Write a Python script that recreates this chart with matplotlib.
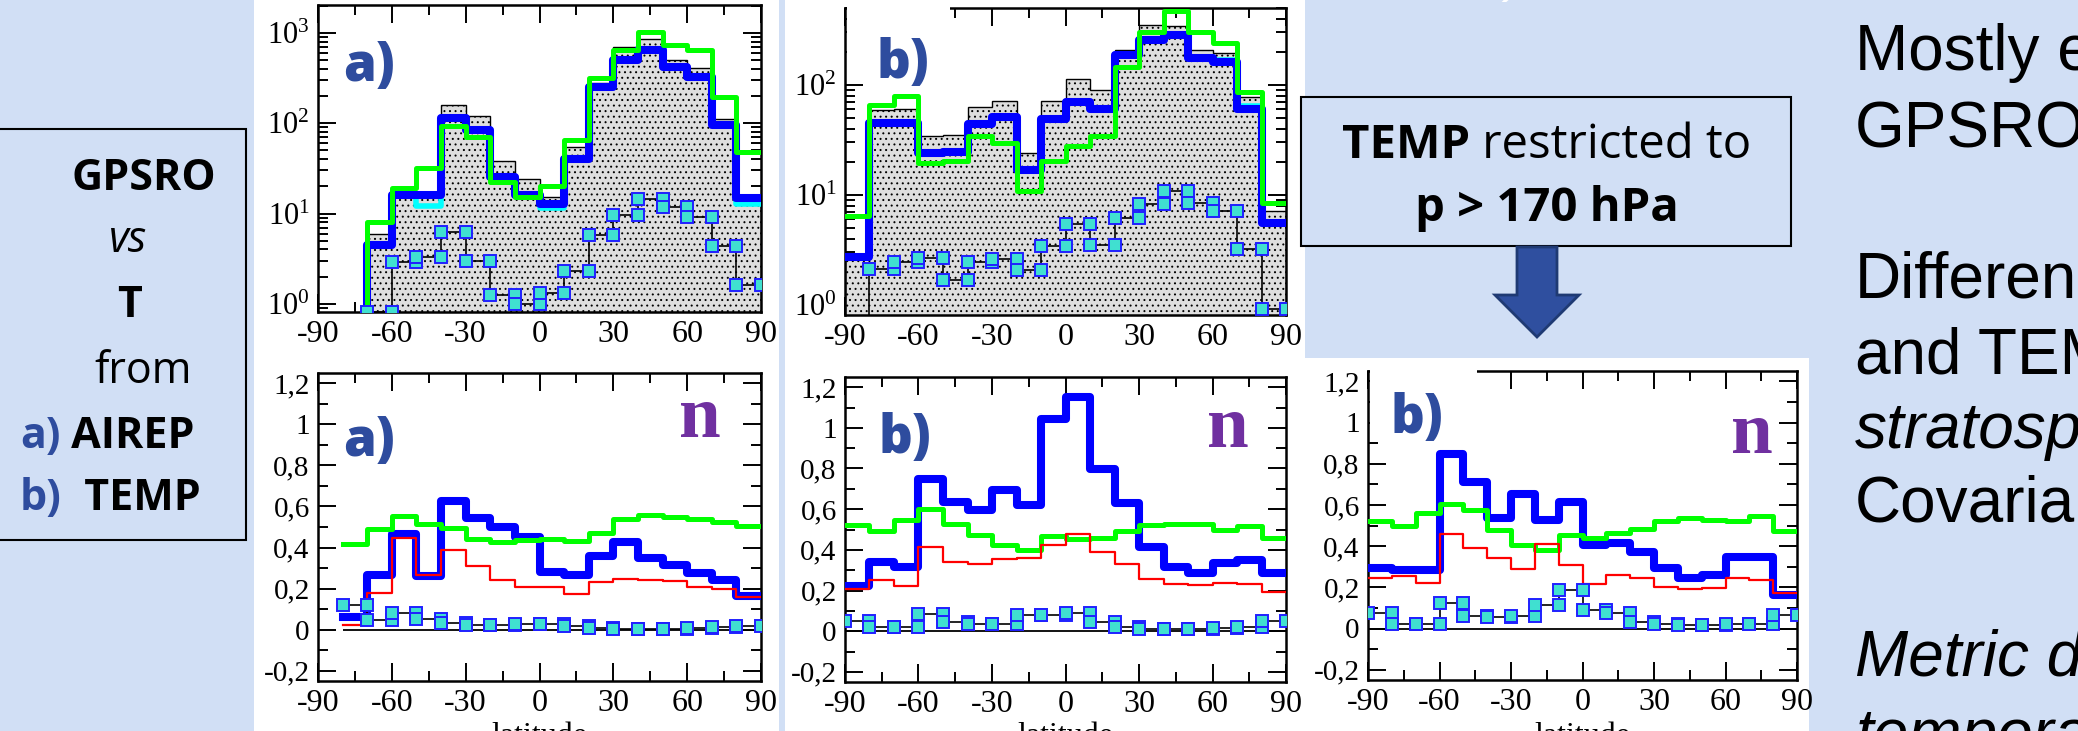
import numpy as np
import matplotlib
matplotlib.use('Agg')
import matplotlib.pyplot as plt
from matplotlib.patches import Rectangle, Polygon
from matplotlib.ticker import MultipleLocator, FuncFormatter, LogLocator, NullFormatter

plt.rcParams['font.family'] = 'Liberation Serif'
plt.rcParams['hatch.linewidth'] = 0.7

W, H = 2078, 731
BG = '#d1dff5'
LABEL_BLUE = '#2e4c9e'
PURPLE = '#7030a0'

# 10-degree latitude bins
EDGES = np.arange(-90, 91, 10)
nan = np.nan

# counts per latitude bin (log panels)
hist_airep = [0, 0, 6.0, 17, 17.5, 160, 122, 38.6, 24.2, 15.4, 55, 277, 705, 870, 505, 407, 113, 15.4]
blue_airep = [0, 0, 4.5, 16, 16, 114, 84, 25.7, 16, 12.8, 40, 250, 510, 650, 425, 330, 96, 15]
cyan_airep = [0, 0, 4.5, 16, 12, 114, 84, 25.7, 16, 11.6, 40, 250, 510, 650, 425, 330, 96, 12.8]
green_airep = [0, 0, 8.1, 19, 31.8, 93, 70, 22.6, 15.2, 20.2, 65, 315, 650, 1030, 740, 650, 197, 48.6]
sq_airep = [nan, nan, 0.8, 2.9, 3.3, 6.2, 3.0, 1.26, 1.0, 1.31, 2.3, 5.8, 9.6, 14.5, 11.9, 9.2, 4.4, 1.62]

hist_temp = [2.9, 58.6, 60, 34.6, 35, 63, 72, 24, 72, 113, 89, 208, 352, 340, 208, 194, 78, 7.1]
blue_temp = [2.7, 45, 45, 24, 24.5, 44, 51, 17, 49, 70, 60, 187, 256, 285, 174, 163, 61, 5.6]
cyan_temp = [2.8, 45, 45, 24, 24.5, 44, 51, 17, 49, 70, 60, 187, 256, 285, 180, 170, 64, 5.6]
green_temp = [6.4, 65, 79, 19.5, 20.4, 34.6, 29.7, 10.9, 20.4, 28, 34, 146, 305, 466, 305, 239, 86, 8.5]
sq_temp = [0, 2.1, 2.45, 2.67, 1.69, 2.45, 2.62, 2.09, 3.4, 5.4, 3.5, 6.2, 8.2, 10.9, 8.5, 7.1, 3.2, 0.91]

# n per latitude bin (linear panels)
n_blue_airep = [nan, 0.062, 0.268, 0.468, 0.26, 0.626, 0.545, 0.50, 0.452, 0.281, 0.268, 0.361, 0.429, 0.35, 0.317, 0.276, 0.244, 0.163]
n_green_airep = [nan, 0.415, 0.488, 0.553, 0.515, 0.496, 0.442, 0.426, 0.436, 0.442, 0.431, 0.472, 0.537, 0.558, 0.55, 0.537, 0.524, 0.507]
n_red_airep = [nan, 0.024, 0.179, 0.447, 0.268, 0.39, 0.309, 0.241, 0.207, 0.207, 0.174, 0.231, 0.247, 0.241, 0.236, 0.208, 0.198, 0.158]
n_sq_airep = [nan, 0.122, 0.049, 0.081, 0.052, 0.033, 0.021, 0.024, 0.028, 0.028, 0.02, 0.008, 0.005, 0.005, 0.005, 0.007, 0.011, 0.016]

n_blue_temp = [0.223, 0.342, 0.314, 0.749, 0.635, 0.594, 0.692, 0.619, 1.042, 1.151, 0.798, 0.63, 0.415, 0.314, 0.285, 0.334, 0.35, 0.288]
n_green_temp = [0.521, 0.492, 0.549, 0.599, 0.526, 0.472, 0.423, 0.399, 0.467, 0.451, 0.456, 0.492, 0.521, 0.529, 0.526, 0.5, 0.516, 0.459]
n_red_temp = [0.207, 0.252, 0.22, 0.412, 0.339, 0.331, 0.353, 0.362, 0.423, 0.476, 0.391, 0.329, 0.256, 0.231, 0.228, 0.236, 0.233, 0.195]
n_sq_temp = [0.052, 0.02, 0.02, 0.086, 0.046, 0.037, 0.037, 0.078, 0.081, 0.09, 0.046, 0.02, 0.013, 0.013, 0.013, 0.016, 0.02, 0.052]

n_blue_t170 = [0.296, 0.283, 0.286, 0.849, 0.711, 0.537, 0.655, 0.529, 0.614, 0.407, 0.417, 0.372, 0.296, 0.243, 0.259, 0.348, 0.348, 0.162]
n_green_t170 = [0.522, 0.496, 0.561, 0.603, 0.574, 0.477, 0.407, 0.38, 0.453, 0.441, 0.466, 0.485, 0.522, 0.534, 0.529, 0.52, 0.545, 0.472]
n_red_t170 = [0.247, 0.254, 0.222, 0.458, 0.393, 0.343, 0.291, 0.412, 0.31, 0.215, 0.259, 0.247, 0.202, 0.194, 0.199, 0.243, 0.234, 0.17]
n_sq_t170 = [0.073, 0.021, 0.021, 0.126, 0.06, 0.057, 0.06, 0.113, 0.186, 0.092, 0.073, 0.03, 0.021, 0.016, 0.018, 0.021, 0.024, 0.065]


def fig_rect(x0, y0, x1, y1):
    # pixel box (top-left origin) -> figure fraction rect
    return [x0 / W, 1 - y1 / H, (x1 - x0) / W, (y1 - y0) / H]


def stair_xy(vals):
    v = np.asarray(vals, float)
    return np.repeat(EDGES, 2)[1:-1], np.repeat(v, 2)


def style_axes(ax):
    for s in ax.spines.values():
        s.set_linewidth(1.8)
    ax.set_xlim(-90, 90)
    ax.xaxis.set_major_locator(MultipleLocator(30))
    ax.xaxis.set_minor_locator(MultipleLocator(15))
    ax.xaxis.set_major_formatter(FuncFormatter(lambda v, _: f'{int(round(v))}'))
    ax.tick_params(which='both', direction='in', top=True, right=True, width=1.4)
    ax.tick_params(which='major', length=13)
    ax.tick_params(which='minor', length=7)
    ax.tick_params(axis='x', labelsize=23, pad=6)
    ax.tick_params(axis='y', labelsize=21, pad=6)


def draw_lines(ax, blue, green, red=None, cyan=None):
    if cyan is not None:
        ax.plot(*stair_xy(cyan), color='#00ffff', lw=4.0, zorder=3)
    ax.plot(*stair_xy(blue), color='#0000ff', lw=5.8, zorder=3.1)
    ax.plot(*stair_xy(green), color='#00ff00', lw=3.6, zorder=3.2)
    if red is not None:
        ax.plot(*stair_xy(red), color='#ff0000', lw=1.6, zorder=3.3)


def draw_squares(ax, vals):
    ax.plot(*stair_xy(vals), color='black', lw=1.2, marker='s', ms=8.5,
            mfc='#40e0d0', mec='#2020ff', mew=1.4, zorder=4)


def log_panel(rect, hist, blue, cyan, green, sq, ylim):
    ax = fig.add_axes(fig_rect(*rect))
    ax.set_yscale('log')
    ax.stairs(hist, EDGES, baseline=0.1, fill=True, facecolor='#dedede',
              edgecolor='black', hatch='...', linewidth=1.0, zorder=2)
    draw_lines(ax, blue, green, cyan=cyan)
    draw_squares(ax, sq)
    style_axes(ax)
    ax.set_ylim(*ylim)
    ax.yaxis.set_major_locator(LogLocator(base=10))
    ax.yaxis.set_minor_locator(LogLocator(base=10, subs=np.arange(2, 10)))
    ax.yaxis.set_minor_formatter(NullFormatter())
    ax.tick_params(axis='y', labelsize=22)
    return ax


def n_fmt(v, _):
    v = round(v, 1)
    if abs(v - round(v)) < 1e-9:
        return f'{int(round(v))}'
    return f'{v:.1f}'.replace('.', ',')


def n_panel(rect, blue, green, red, sq, zero_from=-90):
    ax = fig.add_axes(fig_rect(*rect))
    ax.hlines(0, zero_from, 90, color='black', lw=1.3, zorder=2)
    draw_lines(ax, blue, green, red=red)
    draw_squares(ax, sq)
    style_axes(ax)
    ax.set_ylim(-0.25, 1.25)
    ax.yaxis.set_major_locator(MultipleLocator(0.2))
    ax.yaxis.set_minor_locator(MultipleLocator(0.1))
    ax.yaxis.set_major_formatter(FuncFormatter(n_fmt))
    return ax


fig = plt.figure(figsize=(W / 100, H / 100), dpi=100)
fig.patch.set_facecolor(BG)

# white backgrounds behind the pasted plots
for x0, y0, x1, y1 in [(254, 0, 779, 731), (785, 0, 1305, 731), (1305, 358, 1809, 731)]:
    fig.patches.append(Rectangle((x0 / W, 1 - y1 / H), (x1 - x0) / W, (y1 - y0) / H,
                                 transform=fig.transFigure, facecolor='white',
                                 edgecolor='none', zorder=-1))

ax1 = log_panel((318, 5, 761, 312), hist_airep, blue_airep, cyan_airep, green_airep,
                sq_airep, (0.81, 2050))
ax2 = log_panel((845, 8, 1286, 315), hist_temp, blue_temp, cyan_temp, green_temp,
                sq_temp, (0.81, 500))
ax3 = n_panel((318, 373, 761, 681), n_blue_airep, n_green_airep, n_red_airep, n_sq_airep,
              zero_from=-80)
ax4 = n_panel((845, 377, 1286, 682), n_blue_temp, n_green_temp, n_red_temp, n_sq_temp)
ax5 = n_panel((1368, 371, 1797, 680), n_blue_t170, n_green_t170, n_red_t170, n_sq_t170)

# white label boxes hide part of the top frame
for ax, x1 in [(ax2, 0.237), (ax5, 0.254)]:
    ax.add_patch(Rectangle((0.004, 0.82), x1 - 0.004, 0.21, transform=ax.transAxes,
                           facecolor='white', edgecolor='none', zorder=10, clip_on=False))

sans = ['Open Sans', 'DejaVu Sans']


def ftext(x, y, s, **kw):
    return fig.text(x / W, 1 - y / H, s, **kw)


# panel letters
for x, y, s in [(343, 81, 'a)'), (876, 78, 'b)'), (343, 456, 'a)'), (878, 453, 'b)'),
                (1391, 433, 'b)')]:
    ftext(x, y, s, family=sans, weight='heavy', fontsize=38, color=LABEL_BLUE,
          ha='left', va='baseline', zorder=12)
for x, y in [(700, 437), (1228, 447), (1752, 453)]:
    ftext(x, y, 'n', family='Liberation Serif', weight='bold', fontsize=54, color=PURPLE,
          ha='center', va='baseline')

# axis titles, cut by the bottom edge
for xc in [539, 1065, 1582]:
    ftext(xc, 744, 'latitude', fontsize=23, ha='center', va='baseline')

# left caption box
fig.patches.append(Rectangle((-5 / W, 1 - 540 / H), 251 / W, 411 / H, transform=fig.transFigure,
                             facecolor=BG, edgecolor='black', lw=1.5, zorder=1))
fs_left = 31
ftext(144, 190, 'GPSRO', family=sans, weight='bold', fontsize=fs_left, ha='center', va='baseline')
ftext(128, 252, 'vs', family=sans, style='italic', fontsize=fs_left, ha='center', va='baseline')
ftext(130, 317, 'T', family=sans, weight='bold', fontsize=fs_left, ha='center', va='baseline')
ftext(143, 383, 'from', family=sans, fontsize=fs_left, ha='center', va='baseline')
renderer = fig.canvas.get_renderer()
for y, tag, word in [(448, 'a)', ' AIREP'), (510, 'b)', '  TEMP')]:
    t = ftext(20, y, tag, family=sans, weight='bold', fontsize=fs_left, color=LABEL_BLUE,
              ha='left', va='baseline')
    w = t.get_window_extent(renderer).width
    ftext(20 + w, y, word, family=sans, weight='bold', fontsize=fs_left, ha='left', va='baseline')

# restriction note with arrow
fig.patches.append(Rectangle((1301 / W, 1 - 246 / H), 490 / W, 149 / H, transform=fig.transFigure,
                             facecolor=BG, edgecolor='black', lw=1.5, zorder=1))
t_bold = ftext(0, 158, 'TEMP', family=sans, weight='bold', fontsize=34, ha='left', va='baseline')
t_reg = ftext(0, 158, ' restricted to', family=sans, fontsize=34, ha='left', va='baseline')
wb = t_bold.get_window_extent(renderer).width
wr = t_reg.get_window_extent(renderer).width
x_start = 1547 - (wb + wr) / 2
t_bold.set_x(x_start / W)
t_reg.set_x((x_start + wb) / W)
ftext(1547, 221, 'p > 170 hPa', family=sans, weight='bold', fontsize=34, ha='center', va='baseline')

arrow_px = [(1517, 247), (1557, 247), (1557, 295), (1579, 295), (1537, 337), (1495, 295), (1517, 295)]
fig.patches.append(Polygon([(x / W, 1 - y / H) for x, y in arrow_px], closed=True,
                           transform=fig.transFigure, facecolor='#2f4f9f',
                           edgecolor='#1f3a73', lw=2, zorder=1))

# slide text on the right, cut by the edge
for y, s, st in [(70, 'Mostly e', 'normal'), (147, 'GPSRO', 'normal'),
                 (298, 'Differen', 'normal'), (373, 'and TEM', 'normal'),
                 (448, 'stratosp', 'italic'), (522, 'Covaria', 'normal'),
                 (676, 'Metric d', 'italic'), (754, 'tempora', 'italic')]:
    ftext(1855, y, s, family='Liberation Sans', style=st, fontsize=46, ha='left', va='baseline')

# fragment of the slide title above
ftext(1506, -10, ')', family='Liberation Sans', style='italic', fontsize=40, color='white',
      ha='left', va='baseline')

fig.savefig('out.png', dpi=100, facecolor=BG)
